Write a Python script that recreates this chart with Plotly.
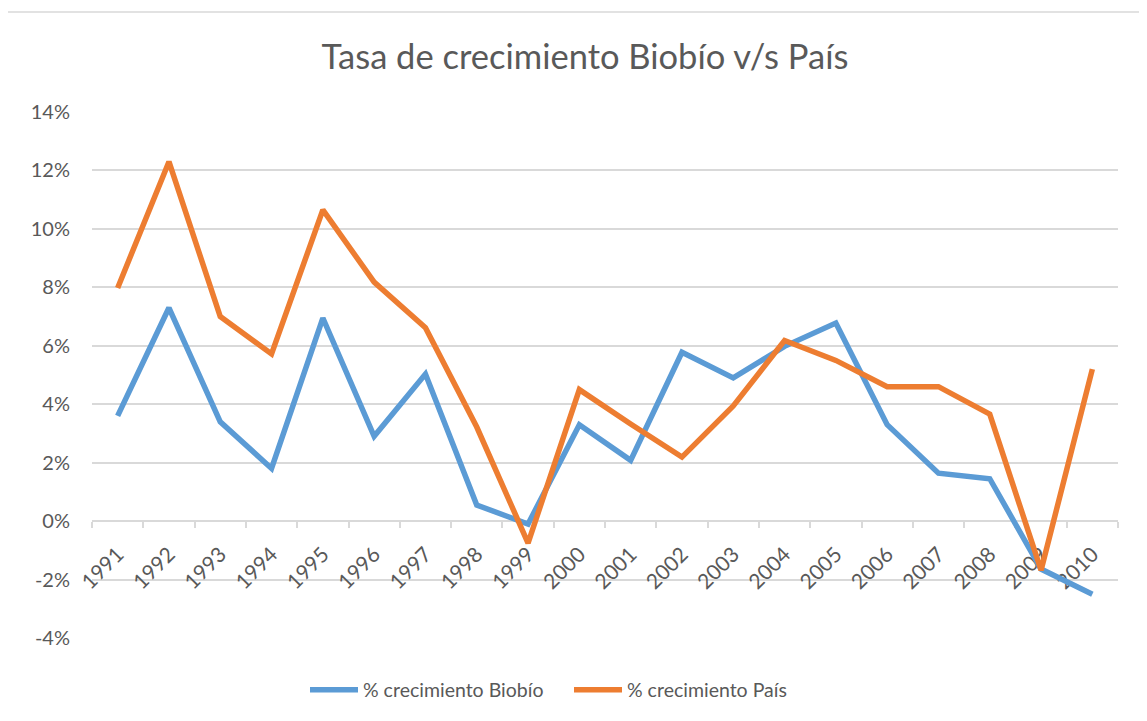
import plotly.graph_objects as go

years = [str(y) for y in range(1991, 2011)]
biobio = [3.6, 7.3, 3.4, 1.8, 6.95, 2.9, 5.03, 0.55, -0.1, 3.3,
          2.08, 5.78, 4.9, 5.98, 6.78, 3.3, 1.64, 1.45, -1.64, -2.5]
pais = [7.98, 12.3, 7.0, 5.72, 10.65, 8.18, 6.62, 3.22, -0.75, 4.5,
        3.32, 2.19, 3.94, 6.18, 5.5, 4.6, 4.6, 3.66, -1.68, 5.2]
y_ticks = list(range(-4, 16, 2))
y_labels = [f"{v}%" for v in y_ticks]

FONT = "Lato, Open Sans, sans-serif"
GREY = "#595959"
GRID = "#d9d9d9"

# page body has an 8px margin: shift everything up/left by 8px
OFF = 8
W, H = 1147 - OFF, 721 - OFF
L, T, R, B = 92 - OFF, 112 - OFF, 29, 83
PW, PH = W - L - R, H - T - B

fig = go.Figure()
fig.add_trace(go.Scatter(x=years, y=biobio, mode="lines", name="% crecimiento Biobío",
                         line=dict(color="#5B9BD5", width=5.5)))
fig.add_trace(go.Scatter(x=years, y=pais, mode="lines", name="% crecimiento País",
                         line=dict(color="#ED7D31", width=5.5)))

ymin, ymax = -4, 14
fig.update_layout(
    width=W, height=H,
    margin=dict(l=L, r=R, t=T, b=B),
    paper_bgcolor="white", plot_bgcolor="white",
    font=dict(family=FONT, color=GREY, size=20),
    title=dict(text="Tasa de crecimiento Biobío v/s País", x=(585 - OFF) / W,
               xref="container",
               y=1 - (57 - OFF) / H, yanchor="middle", xanchor="center",
               font=dict(size=34.5, color=GREY, family=FONT)),
    legend=dict(orientation="h", x=(569 - 92) / PW, xanchor="center",
                y=-(690 - 638) / PH, yanchor="middle",
                font=dict(size=19.5, color=GREY), itemwidth=48,
                entrywidth=201, entrywidthmode="pixels",
                traceorder="normal"),
    showlegend=True,
)
fig.update_yaxes(range=[ymin, ymax], tickvals=y_ticks, ticktext=y_labels,
                 showgrid=True, gridcolor=GRID, gridwidth=1.5, zeroline=False,
                 showline=False, ticks="", ticklabelstandoff=21,
                 tickfont=dict(size=20, color=GREY))
fig.update_xaxes(type="category", anchor="free",
                 position=(0 - ymin) / (ymax - ymin),
                 showgrid=False, showline=True, linecolor=GRID, linewidth=1.5,
                 ticks="outside", tickson="boundaries", ticklen=6, tickcolor=GRID,
                 tickwidth=1.5, tickangle=-45, ticklabelstandoff=12,
                 tickfont=dict(size=21, color=GREY), layer="below traces",
                 range=[-0.5, len(years) - 0.5])

# chart frame
fy = (H - (12 - OFF) - B) / PH
fx = ((5 - OFF) - L) / PW
fig.add_shape(type="line", xref="paper", yref="paper",
              x0=fx, x1=(W - L) / PW, y0=fy, y1=fy,
              line=dict(color=GRID, width=1.5))
fig.add_shape(type="line", xref="paper", yref="paper",
              x0=fx, x1=fx, y0=fy, y1=-B / PH,
              line=dict(color=GRID, width=1.5))

fig.write_html("out.html")
